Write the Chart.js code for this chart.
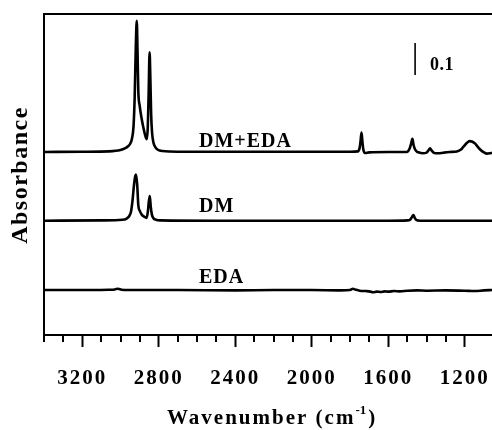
<!DOCTYPE html>
<html><head><meta charset="utf-8">
<script src="https://cdn.jsdelivr.net/npm/chart.js@4/dist/chart.umd.min.js"></script>
<style>html,body{margin:0;padding:0;background:#fff;}</style>
</head><body>
<canvas id="c" width="492" height="430"></canvas>
<script>
// ---- data (wavenumber in cm-1, absorbance incl. vertical offset) ----
const dmEdaWn = [3400,3200,3060,3000,2975,2965,2950,2940,2932,2926,2920,2915,2911,2907,2900,2889,2880,2872,2863,2858,2853,2848,2844,2840,2835,2828,2818,2805,2780,2700,2400,2000,1800,1760,1750,1745,1740,1735,1730,1722,1700,1600,1504,1488,1480,1474,1468,1460,1450,1443,1420,1400,1388,1382,1375,1360,1340,1312,1280,1242,1220,1208,1190,1175,1160,1146,1132,1120,1100,1085,1070,1058];
const dmEdaAbs = [0.570,0.571,0.572,0.576,0.582,0.586,0.595,0.612,0.650,0.740,0.900,0.979,0.880,0.760,0.715,0.672,0.645,0.624,0.610,0.640,0.750,0.881,0.800,0.690,0.630,0.600,0.585,0.577,0.573,0.571,0.571,0.571,0.571,0.572,0.583,0.605,0.631,0.600,0.576,0.567,0.569,0.570,0.570,0.582,0.598,0.611,0.592,0.578,0.571,0.569,0.566,0.568,0.577,0.582,0.576,0.567,0.566,0.568,0.570,0.572,0.578,0.586,0.598,0.604,0.602,0.596,0.586,0.578,0.569,0.565,0.566,0.568];

const dmWn = [3400,3100,2990,2970,2955,2945,2937,2930,2924,2919,2913,2907,2898,2889,2875,2863,2857,2852,2847,2842,2836,2828,2815,2790,2500,2000,1600,1500,1485,1476,1469,1462,1452,1435,1300,1058];
const dmAbs = [0.356,0.357,0.359,0.362,0.370,0.385,0.420,0.465,0.492,0.500,0.470,0.405,0.385,0.375,0.368,0.365,0.385,0.415,0.433,0.400,0.375,0.364,0.359,0.357,0.356,0.356,0.356,0.357,0.360,0.368,0.374,0.365,0.358,0.356,0.356,0.356];

const edaWn = [3400,3150,3060,3030,3013,2995,2960,2700,2400,2200,2000,1850,1800,1785,1770,1750,1720,1700,1680,1660,1640,1620,1600,1570,1540,1500,1450,1400,1300,1200,1150,1100,1058];
const edaAbs = [0.140,0.140,0.141,0.142,0.144,0.141,0.140,0.140,0.139,0.140,0.140,0.139,0.140,0.144,0.141,0.138,0.137,0.136,0.133,0.135,0.134,0.136,0.135,0.137,0.136,0.138,0.139,0.138,0.139,0.138,0.137,0.139,0.140];

const scaleBarWn = [1460, 1460];
const scaleBarAbs = [0.81, 0.91];
const scaleBarLabel = '0.1';

const seriesNames = ['DM+EDA', 'DM', 'EDA'];
const labelAbs = [0.587, 0.382, 0.161];
const labelWn = 2590;

const xMin = 1058, xMax = 3400, yMin = 0, yMax = 1.0;
const majorStep = 400, minorStep = 100;
const xTitleMain = 'Wavenumber (cm', xTitleSup = '-1', xTitleEnd = ')';
const yTitle = 'Absorbance';

// ---- chart ----
const SERIF = '"Liberation Serif", "Times New Roman", serif';
const pts = (xs, ys) => xs.map((v, i) => ({x: v, y: ys[i]}));
const lineDs = (label, xs, ys, w) => ({
  label, data: pts(xs, ys), borderColor: '#000', borderWidth: w,
  pointRadius: 0, fill: false, cubicInterpolationMode: 'monotone'
});

const decor = {
  id: 'decor',
  beforeDraw(chart) { chart.ctx.letterSpacing = '2px'; },
  afterDraw(chart) {
    const {ctx, chartArea: a, scales: {x, y}} = chart;
    ctx.save();
    ctx.fillStyle = '#000'; ctx.strokeStyle = '#000';
    // top frame line
    ctx.lineWidth = 2;
    ctx.beginPath(); ctx.moveTo(a.left - 1, a.top); ctx.lineTo(a.right, a.top); ctx.stroke();
    // minor ticks
    x.ticks.forEach(t => {
      if (t.value % majorStep !== 0) {
        const px = Math.round(x.getPixelForValue(t.value));
        ctx.beginPath(); ctx.moveTo(px, a.bottom); ctx.lineTo(px, a.bottom + 7); ctx.stroke();
      }
    });
    // series labels
    ctx.textAlign = 'left'; ctx.textBaseline = 'alphabetic';
    ctx.font = 'bold 20px ' + SERIF; ctx.letterSpacing = '1px';
    seriesNames.forEach((n, i) => ctx.fillText(n, x.getPixelForValue(labelWn), y.getPixelForValue(labelAbs[i])));
    // scale bar label
    ctx.font = 'bold 18px ' + SERIF; ctx.letterSpacing = '0.5px';
    ctx.fillText(scaleBarLabel, x.getPixelForValue(scaleBarWn[0]) + 15, y.getPixelForValue(0.8255));
    // x title
    ctx.font = 'bold 21px ' + SERIF; ctx.letterSpacing = '2px';
    let tx = 167; const ty = 424;
    ctx.fillText(xTitleMain, tx, ty); tx += ctx.measureText(xTitleMain).width;
    ctx.font = 'bold 13px ' + SERIF; ctx.letterSpacing = '0px';
    ctx.fillText(xTitleSup, tx, ty - 10); tx += ctx.measureText(xTitleSup).width + 2;
    ctx.font = 'bold 21px ' + SERIF;
    ctx.fillText(xTitleEnd, tx, ty);
    // y title
    ctx.translate(27, 175); ctx.rotate(-Math.PI / 2);
    ctx.font = 'bold 24px ' + SERIF; ctx.letterSpacing = '1.5px';
    ctx.textAlign = 'center';
    ctx.fillText(yTitle, 0, 0);
    ctx.restore();
  }
};

new Chart(document.getElementById('c'), {
  type: 'line',
  data: { datasets: [
    lineDs(seriesNames[0], dmEdaWn, dmEdaAbs, 2.6),
    lineDs(seriesNames[1], dmWn, dmAbs, 2.6),
    lineDs(seriesNames[2], edaWn, edaAbs, 2.6),
    {label: 'scale', data: pts(scaleBarWn, scaleBarAbs), borderColor: '#000', borderWidth: 1.6, pointRadius: 0}
  ]},
  options: {
    responsive: false, animation: false, devicePixelRatio: 1,
    layout: { padding: { top: 14, right: 0, left: 0, bottom: 0 } },
    plugins: { legend: { display: false }, tooltip: { enabled: false } },
    scales: {
      x: {
        type: 'linear', reverse: true, min: xMin, max: xMax,
        afterFit(s) { s.height = 95; s.paddingLeft = 0; s.paddingRight = 0; },
        afterBuildTicks(s) { s.ticks = s.ticks.filter(t => t.value % minorStep === 0); },
        ticks: {
          stepSize: minorStep, autoSkip: false, maxRotation: 0, padding: 19, color: '#000',
          font: { family: SERIF, size: 21, weight: 'bold' },
          callback: v => (v % majorStep === 0 ? String(v) : '')
        },
        grid: {
          drawOnChartArea: false, tickLength: 12, tickWidth: 2,
          tickColor: c => (c.tick && c.tick.value % majorStep === 0 ? '#000' : 'rgba(0,0,0,0)')
        },
        border: { display: true, color: '#000', width: 2 }
      },
      y: {
        min: yMin, max: yMax,
        afterFit(s) { s.width = 44; s.paddingTop = 0; s.paddingBottom = 0; },
        ticks: { display: false },
        grid: { display: false },
        border: { display: true, color: '#000', width: 2 }
      }
    }
  },
  plugins: [decor]
});
</script>
</body></html>
